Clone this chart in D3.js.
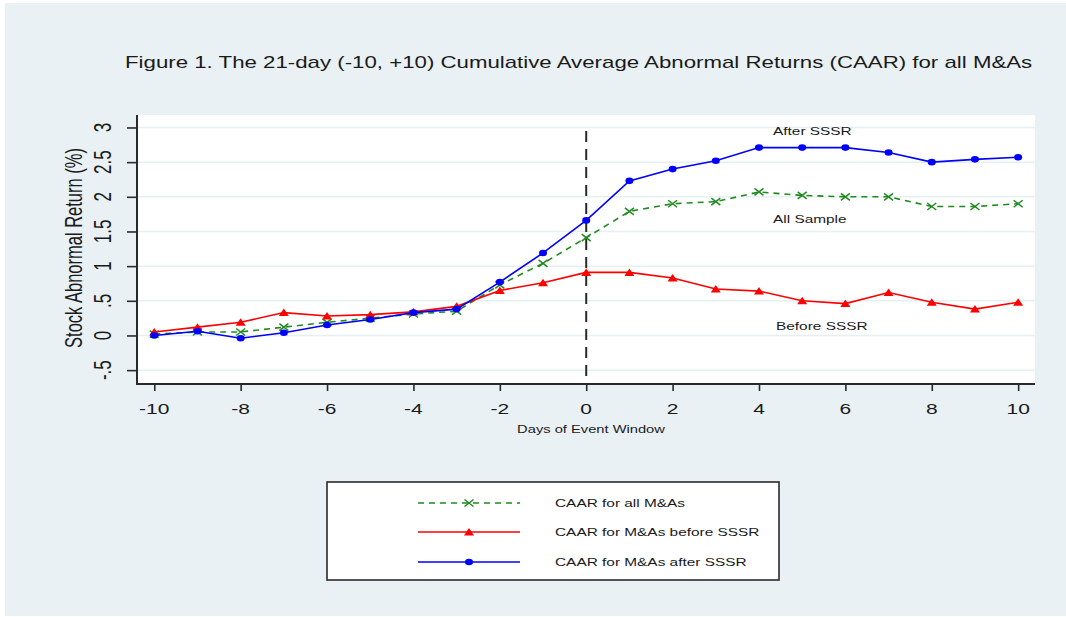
<!DOCTYPE html>
<html>
<head>
<meta charset="utf-8">
<script src="https://cdnjs.cloudflare.com/ajax/libs/d3/7.8.5/d3.min.js"></script>
<style>
    html, body { margin: 0; padding: 0; background: #ffffff; }
    svg { display: block; font-family: "Liberation Sans", Arial, sans-serif; }
</style>
</head>
<body>
<svg id="chart" width="1066" height="617"></svg>
<script>
// event window days
const days = [-10, -9, -8, -7, -6, -5, -4, -3, -2, -1, 0, 1, 2, 3, 4, 5, 6, 7, 8, 9, 10];
// CAAR (%)
const caar_all = [0.02, 0.05, 0.05, 0.12, 0.19, 0.25, 0.31, 0.35, 0.73, 1.04, 1.41, 1.79, 1.90, 1.93, 2.07, 2.02, 2.00, 2.00, 1.86, 1.86, 1.90];
const caar_before = [0.05, 0.12, 0.19, 0.33, 0.28, 0.30, 0.34, 0.42, 0.65, 0.76, 0.91, 0.91, 0.83, 0.67, 0.64, 0.50, 0.46, 0.62, 0.48, 0.38, 0.48];
const caar_after = [0.00, 0.06, -0.04, 0.04, 0.15, 0.23, 0.33, 0.38, 0.77, 1.19, 1.66, 2.23, 2.40, 2.52, 2.71, 2.71, 2.71, 2.64, 2.50, 2.54, 2.57];
const x_ticks = [-10, -8, -6, -4, -2, 0, 2, 4, 6, 8, 10];
const y_ticks = [-0.5, 0, 0.5, 1, 1.5, 2, 2.5, 3];
const y_tick_labels = ["-.5", "0", ".5", "1", "1.5", "2", "2.5", "3"];
const legend_labels = ["CAAR for all M&As", "CAAR for M&As before SSSR", "CAAR for M&As after SSSR"];

const SX = 1.4;  // picture is stretched sideways, text too
const svg = d3.select("#chart");

svg.append("rect").attr("x", 5).attr("y", 3).attr("width", 1061).attr("height", 613).attr("fill", "#e9f1f4");

const plot = { left: 137, right: 1035, top: 115, bottom: 384 };
const x = d3.scaleLinear().domain([-10.4, 10.39]).range([plot.left, plot.right]);
const y = d3.scaleLinear().domain([-0.7, 3.18]).range([plot.bottom, plot.top]);

function put_text(str, px, py, size, anchor, rotated) {
    let g = svg.append("g").attr("transform", "translate(" + px + "," + py + ") scale(" + SX + ",1)" + (rotated ? " rotate(-90)" : ""));
    return g.append("text").text(str).attr("font-size", size).attr("text-anchor", anchor).attr("fill", "#1a1a1a");
}

put_text("Figure 1. The 21-day (-10, +10) Cumulative Average Abnormal Returns (CAAR) for all M&As", 125, 68, 15.9, "start", false);

svg.append("rect").attr("x", plot.left).attr("y", plot.top)
    .attr("width", plot.right - plot.left).attr("height", plot.bottom - plot.top).attr("fill", "#ffffff");

// grid
svg.selectAll("line.grid").data(y_ticks).enter().append("line").attr("class", "grid")
    .attr("x1", plot.left).attr("x2", plot.right).attr("y1", d => y(d)).attr("y2", d => y(d))
    .attr("stroke", "#e6eff2").attr("stroke-width", 1.5);

// axes
const x_axis = svg.append("g").attr("transform", "translate(0," + plot.bottom + ")")
    .call(d3.axisBottom(x).tickValues(x_ticks).tickSize(7).tickFormat(""));
const y_axis = svg.append("g").attr("transform", "translate(" + plot.left + ",0)")
    .call(d3.axisLeft(y).tickValues(y_ticks).tickSize(10).tickFormat(""));
[x_axis, y_axis].forEach(a => {
    a.select(".domain").attr("stroke", "#2a2a2a").attr("stroke-width", 2);
    a.selectAll(".tick line").attr("stroke", "#2a2a2a").attr("stroke-width", 1.6);
});
x_axis.select(".domain").attr("d", "M" + (plot.left - 1) + ",0H" + plot.right);
y_axis.select(".domain").attr("d", "M0," + plot.top + "V" + (plot.bottom + 1));

x_ticks.forEach(t => put_text(String(t), x(t), 414, 15, "middle", false));
y_ticks.forEach((t, i) => put_text(y_tick_labels[i], 111, y(t), 17, "middle", true));
put_text("Stock Abnormal Return (%)", 82, 248, 16.5, "middle", true);
put_text("Days of Event Window", 591, 433, 10.5, "middle", false);

// event day line
svg.append("line").attr("x1", x(0)).attr("x2", x(0)).attr("y1", 131).attr("y2", plot.bottom)
    .attr("stroke", "#2a2a2a").attr("stroke-width", 2).attr("stroke-dasharray", "11,7");

const series = [
    { values: caar_all, color: "#1f8a1f", dash: "6,5", marker: "x" },
    { values: caar_before, color: "#ff0000", dash: null, marker: "tri" },
    { values: caar_after, color: "#0000ff", dash: null, marker: "dot" }
];

function draw_marker(g, kind, color, px, py) {
    if (kind === "dot") {
        g.append("ellipse").attr("cx", px).attr("cy", py).attr("rx", 4).attr("ry", 3.3).attr("fill", color);
    } else if (kind === "tri") {
        g.append("path").attr("d", "M" + (px - 5) + "," + (py + 3.5) + "L" + px + "," + (py - 4) + "L" + (px + 5) + "," + (py + 3.5) + "Z").attr("fill", color);
    } else {
        g.append("path").attr("d", "M" + (px - 4.5) + "," + (py - 3.5) + "L" + (px + 4.5) + "," + (py + 3.5) + "M" + (px - 4.5) + "," + (py + 3.5) + "L" + (px + 4.5) + "," + (py - 3.5))
            .attr("stroke", color).attr("stroke-width", 1.5).attr("fill", "none");
    }
}

const line = d3.line().x((d, i) => x(days[i])).y(d => y(d));
series.forEach(s => {
    svg.append("path").datum(s.values).attr("d", line).attr("fill", "none")
        .attr("stroke", s.color).attr("stroke-width", 1.6).attr("stroke-dasharray", s.dash);
    let g = svg.append("g");
    s.values.forEach((v, i) => draw_marker(g, s.marker, s.color, x(days[i]), y(v)));
});

put_text("After SSSR", 773, 135, 11, "start", false);
put_text("All Sample", 773, 223, 11, "start", false);
put_text("Before SSSR", 776, 330, 11, "start", false);

// legend
svg.append("rect").attr("x", 327).attr("y", 482).attr("width", 452).attr("height", 98)
    .attr("fill", "#ffffff").attr("stroke", "#2a2a2a").attr("stroke-width", 1.6);
const legend_y = [503, 532, 562];
series.forEach((s, i) => {
    let g = svg.append("g");
    g.append("line").attr("x1", 418).attr("x2", 520).attr("y1", legend_y[i]).attr("y2", legend_y[i])
        .attr("stroke", s.color).attr("stroke-width", 1.6).attr("stroke-dasharray", s.dash);
    draw_marker(g, s.marker, s.color, 469, legend_y[i]);
    put_text(legend_labels[i], 555, legend_y[i] + 4, 11, "start", false);
});
</script>
</body>
</html>
